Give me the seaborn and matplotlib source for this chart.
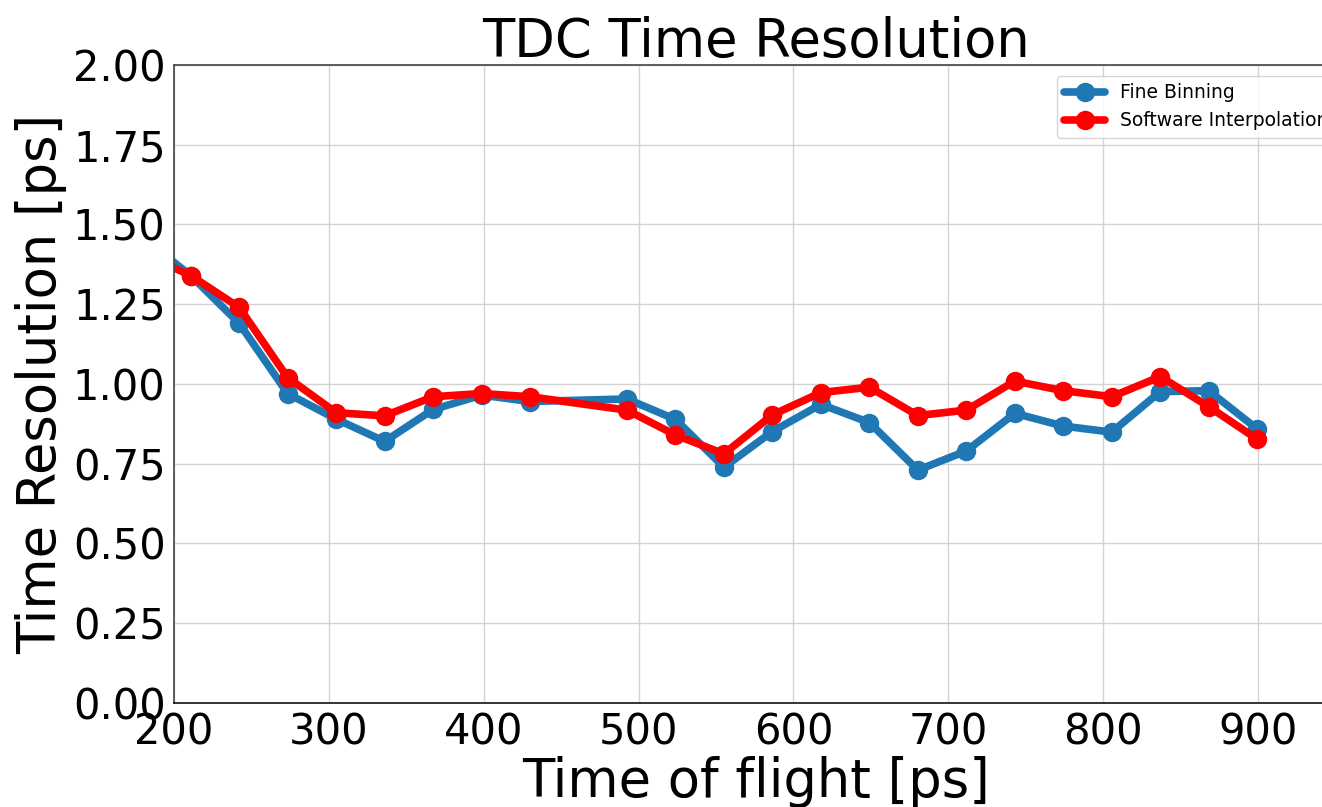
import numpy as np
import pandas as pd
import matplotlib
matplotlib.use('Agg')
from matplotlib import pyplot as plt
import seaborn as sns
sns.set_style('whitegrid')
plt.rcParams['text.color'] = 'black'
plt.rcParams['axes.labelcolor'] = 'black'

# time of flight [ps] for each measurement point
tof = [179.5, 210.8, 242.1, 273.4, 304.7, 336.0, 367.3, 398.6, 429.9,
       492.5, 523.8, 555.1, 586.4, 617.7, 649.0, 680.3, 711.6, 742.9,
       774.2, 805.5, 836.8, 868.1, 899.4]
# time resolution [ps]
fine_binning = [1.46, 1.34, 1.19, 0.97, 0.89, 0.82, 0.92, 0.965, 0.945,
                0.953, 0.889, 0.739, 0.851, 0.936, 0.879, 0.730, 0.790,
                0.908, 0.868, 0.849, 0.976, 0.979, 0.859]
software_interp = [1.41, 1.34, 1.24, 1.02, 0.91, 0.90, 0.96, 0.97, 0.96,
                   0.918, 0.840, 0.781, 0.903, 0.973, 0.990, 0.901, 0.918,
                   1.009, 0.979, 0.960, 1.023, 0.929, 0.827]

fig = plt.figure(figsize = (13.22,8.07), dpi = 100)
ax = fig.add_axes([0.1316, 0.1289, 0.881, 0.7906])

sns.lineplot(x = tof, y = fine_binning, ax = ax, color = '#1f77b4',
             marker = 'o', markersize = 14, markeredgewidth = 0,
             linewidth = 5.5, label = 'Fine Binning')
sns.lineplot(x = tof, y = software_interp, ax = ax, color = 'red',
             marker = 'o', markersize = 14, markeredgewidth = 0,
             linewidth = 5.5, label = 'Software Interpolation')

ax.set_xlim(200, 952)
ax.set_ylim(0, 2)
ax.set_xticks([200, 300, 400, 500, 600, 700, 800, 900])
ax.set_yticks(np.arange(0, 2.01, 0.25))
ax.set_title('TDC Time Resolution', fontsize = 38, color = 'black')
ax.set_xlabel('Time of flight [ps]', fontsize = 38, labelpad = 2)
ax.set_ylabel('Time Resolution [ps]', fontsize = 38, labelpad = 4)
ax.tick_params(axis = 'both', labelsize = 30, length = 4, width = 1,
               colors = '#333333', labelcolor = 'black', pad = 2)
ax.grid(True, color = '#d3d3d3', linewidth = 1)
for side in ['left', 'top', 'bottom']:
    ax.spines[side].set_color('#444444')
    ax.spines[side].set_linewidth(1.2)
ax.spines['bottom'].set_color('#111111')

# legend sits a little past the figure edge, as in the original
leg = ax.legend(loc = 'upper right', bbox_to_anchor = (1.006, 0.998),
                fontsize = 13.5, frameon = True, handlelength = 2.2)
for t in leg.get_texts():
    t.set_color('black')

fig.savefig('out.png', dpi = 100)
